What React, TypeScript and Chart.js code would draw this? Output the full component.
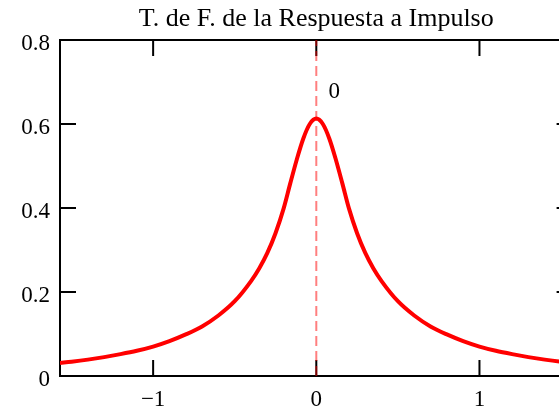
import React, { useEffect, useRef } from "react";
import { Chart, registerables } from "chart.js";

Chart.register(...registerables);

const chartTitle = "T. de F. de la Respuesta a Impulso";

const freqValues = [
  -1.571, -1.5, -1.4, -1.3, -1.2, -1.1, -1.0, -0.9, -0.8, -0.7, -0.6, -0.5, -0.4,
  -0.35, -0.3, -0.25, -0.2, -0.16, -0.12, -0.08, -0.04, 0, 0.04, 0.08, 0.12, 0.16,
  0.2, 0.25, 0.3, 0.35, 0.4, 0.5, 0.6, 0.7, 0.8, 0.9, 1.0, 1.1, 1.2, 1.3, 1.4, 1.5,
  1.571,
];
const magnitudeValues = [
  0.031, 0.034, 0.039, 0.045, 0.052, 0.06, 0.07, 0.083, 0.099, 0.118, 0.144, 0.178,
  0.226, 0.256, 0.293, 0.34, 0.399, 0.458, 0.515, 0.565, 0.6, 0.613, 0.6, 0.565,
  0.515, 0.458, 0.399, 0.34, 0.293, 0.256, 0.226, 0.178, 0.144, 0.118, 0.099, 0.083,
  0.07, 0.06, 0.052, 0.045, 0.039, 0.034, 0.031,
];

const markerX = [0, 0];
const markerY = [0, 0.8];
const markerLabel = "0";
const markerLabelAt = { x: 0.11, y: 0.676 };

const xTickValues = [-1, 0, 1];
const xTickLabels = ["\u22121", "0", "1"];
const yTickValues = [0, 0.2, 0.4, 0.6, 0.8];
const yTickLabels = ["0", "0.2", "0.4", "0.6", "0.8"];

const X_MIN = -1.5708;
const X_MAX = 1.5708;
const Y_MIN = 0;
const Y_MAX = 0.8;

const FONT = "'Liberation Serif', 'Times New Roman', serif";

const framePlugin = {
  id: "frameTicks",
  beforeDatasetsDraw(chart: any) {
    const { ctx, chartArea, scales } = chart;
    const { left, right, top, bottom } = chartArea;
    const len = 16;
    ctx.save();
    ctx.strokeStyle = "#000";
    ctx.lineWidth = 2;
    ctx.strokeRect(left, top, right - left, bottom - top);
    ctx.beginPath();
    xTickValues.forEach((v) => {
      const px = scales.x.getPixelForValue(v);
      ctx.moveTo(px, bottom);
      ctx.lineTo(px, bottom - len);
      ctx.moveTo(px, top);
      ctx.lineTo(px, top + len);
    });
    yTickValues.forEach((v) => {
      const py = scales.y.getPixelForValue(v);
      ctx.moveTo(left, py);
      ctx.lineTo(left + len, py);
      ctx.moveTo(right, py);
      ctx.lineTo(right - len, py);
    });
    ctx.stroke();
    ctx.restore();
  },
  afterDatasetsDraw(chart: any) {
    const { ctx, scales } = chart;
    ctx.save();
    ctx.fillStyle = "#000";
    ctx.font = `23px ${FONT}`;
    ctx.textAlign = "center";
    ctx.textBaseline = "middle";
    ctx.fillText(
      markerLabel,
      scales.x.getPixelForValue(markerLabelAt.x),
      scales.y.getPixelForValue(markerLabelAt.y)
    );
    ctx.restore();
  },
};

export default function App() {
  const canvasRef = useRef<HTMLCanvasElement | null>(null);

  useEffect(() => {
    if (!canvasRef.current) return;
    const chart = new Chart(canvasRef.current, {
      type: "line",
      data: {
        datasets: [
          {
            data: freqValues.map((x, i) => ({ x, y: magnitudeValues[i] })),
            borderColor: "#ff0000",
            borderWidth: 4,
            pointRadius: 0,
            cubicInterpolationMode: "monotone",
            fill: false,
            order: 1,
          },
          {
            data: markerX.map((x, i) => ({ x, y: markerY[i] })),
            borderColor: "rgba(255,0,0,0.5)",
            borderWidth: 2,
            borderDash: [10, 5],
            pointRadius: 0,
            fill: false,
            order: 0,
          },
        ],
      },
      options: {
        animation: false,
        responsive: false,
        devicePixelRatio: 1,
        layout: { padding: { left: 0, right: 59.4, top: 0, bottom: 0 } },
        plugins: {
          legend: { display: false },
          tooltip: { enabled: false },
          title: {
            display: true,
            fullSize: false,
            text: chartTitle,
            color: "#000",
            font: { family: FONT, size: 26, weight: "normal" },
            padding: { top: 4, bottom: 4.8 },
          },
        },
        scales: {
          x: {
            type: "linear",
            min: X_MIN,
            max: X_MAX,
            afterBuildTicks: (s: any) => {
              s.ticks = xTickValues.map((v) => ({ value: v }));
            },
            afterFit: (s: any) => {
              s.height = 34;
            },
            grid: { display: false, drawTicks: false },
            border: { display: false },
            ticks: {
              color: "#000",
              font: { family: FONT, size: 23 },
              padding: 10,
              maxRotation: 0,
              callback: (v: any) => {
                const i = xTickValues.indexOf(Number(v));
                return i >= 0 ? xTickLabels[i] : "";
              },
            },
          },
          y: {
            type: "linear",
            min: Y_MIN,
            max: Y_MAX,
            afterBuildTicks: (s: any) => {
              s.ticks = yTickValues.map((v) => ({ value: v }));
            },
            afterFit: (s: any) => {
              s.width = 60;
            },
            grid: { display: false, drawTicks: false },
            border: { display: false },
            ticks: {
              color: "#000",
              font: { family: FONT, size: 23 },
              padding: 10,
              labelOffset: 4,
              callback: (v: any) => {
                const i = yTickValues.findIndex((t) => Math.abs(t - Number(v)) < 1e-9);
                return i >= 0 ? yTickLabels[i] : "";
              },
            },
          },
        },
      },
      plugins: [framePlugin],
    } as any);
    return () => chart.destroy();
  }, []);

  return (
    <div
      style={{
        position: "fixed",
        left: 0,
        top: 0,
        width: 559,
        height: 410,
        overflow: "hidden",
        background: "#fff",
      }}
    >
      <canvas
        ref={canvasRef}
        width={632}
        height={410}
        style={{ display: "block", width: 632, height: 410 }}
      />
    </div>
  );
}
